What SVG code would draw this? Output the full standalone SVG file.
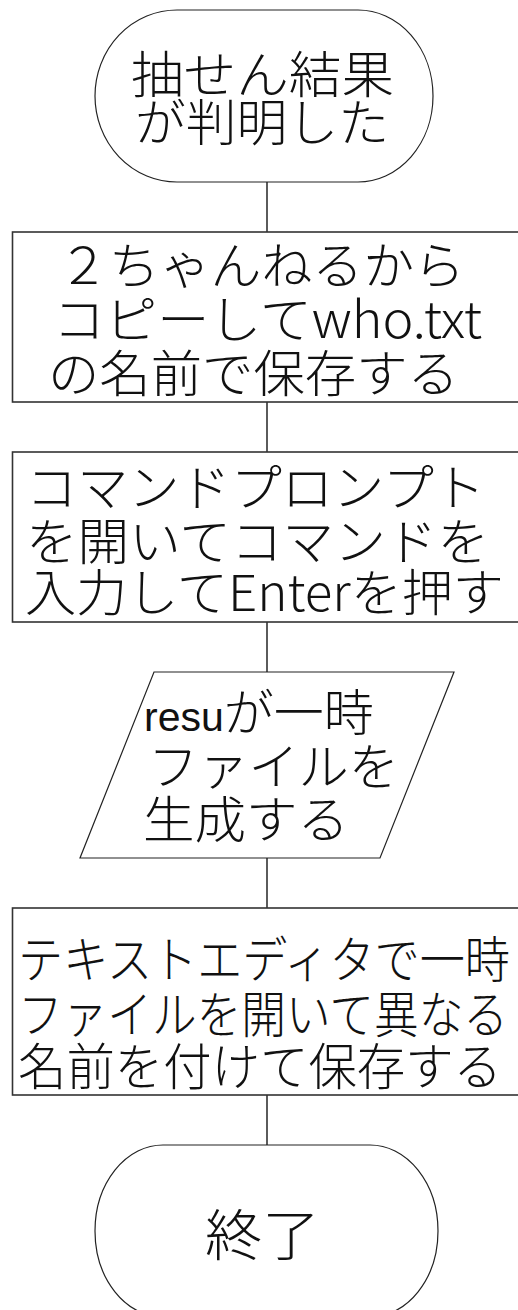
<svg xmlns="http://www.w3.org/2000/svg" width="518" height="1310" viewBox="0 0 518 1310">
<style>
.bg{fill:#ffffff}
.term{fill:#ffffff;stroke:#222;stroke-width:1.2}
.box{fill:#ffffff;stroke:#333;stroke-width:1.6}
.io{fill:#ffffff;stroke:#222;stroke-width:1.2}
.conn{stroke:#333;stroke-width:1.6;fill:none}
.t{font-family:"Noto Sans CJK JP","Noto Sans CJK SC",sans-serif;font-size:50px;font-weight:300;fill:#111}
.lat{font-family:"Liberation Sans",Arial,sans-serif;font-size:41px;font-weight:normal}
</style>
<rect class="bg" x="0" y="0" width="518" height="1310"/>
<g id="connectors">
<line class="conn" x1="267" y1="182" x2="267" y2="232"/>
<line class="conn" x1="267" y1="402" x2="267" y2="452"/>
<line class="conn" x1="267" y1="622" x2="267" y2="672"/>
<line class="conn" x1="267" y1="858" x2="267" y2="908"/>
<line class="conn" x1="267" y1="1095" x2="267" y2="1145"/>
</g>
<g id="start">
<path class="term" d="M177,10 H358 A75,86 0 0 1 358,182 H177 A82,86 0 0 1 177,10 Z"/>
<text class="t" x="131" y="93" textLength="263" lengthAdjust="spacingAndGlyphs">抽せん結果</text>
<text class="t" x="135" y="141" textLength="254" lengthAdjust="spacingAndGlyphs">が判明した</text>
</g>
<g id="copy">
<rect class="box" x="12.5" y="232" width="520" height="170"/>
<text class="t" x="58" y="284" textLength="407" lengthAdjust="spacingAndGlyphs">２ちゃんねるから</text>
<text class="t" x="53" y="338" textLength="429" lengthAdjust="spacingAndGlyphs">コピーしてwho.txt</text>
<text class="t" x="48" y="392" textLength="411" lengthAdjust="spacingAndGlyphs">の名前で保存する</text>
</g>
<g id="command">
<rect class="box" x="12.5" y="452" width="520" height="170"/>
<text class="t" x="26" y="506" textLength="459" lengthAdjust="spacingAndGlyphs">コマンドプロンプト</text>
<text class="t" x="26" y="560" textLength="463" lengthAdjust="spacingAndGlyphs">を開いてコマンドを</text>
<text class="t" x="25" y="611" textLength="479" lengthAdjust="spacingAndGlyphs">入力してEnterを押す</text>
</g>
<g id="resu">
<polygon class="io" points="154,672 454,672 380,858 80,858"/>
<text class="t" x="144" y="731"><tspan class="lat">resu</tspan><tspan>が一時</tspan></text>
<text class="t" x="148" y="785" textLength="251" lengthAdjust="spacingAndGlyphs">ファイルを</text>
<text class="t" x="143" y="838" textLength="206" lengthAdjust="spacingAndGlyphs">生成する</text>
</g>
<g id="edit">
<rect class="box" x="12.5" y="908" width="520" height="187"/>
<text class="t" x="18" y="978" textLength="492" lengthAdjust="spacingAndGlyphs">テキストエディタで一時</text>
<text class="t" x="18" y="1033" textLength="490" lengthAdjust="spacingAndGlyphs">ファイルを開いて異なる</text>
<text class="t" x="18" y="1085" textLength="484" lengthAdjust="spacingAndGlyphs">名前を付けて保存する</text>
</g>
<g id="end">
<path class="term" d="M163,1145 H370 A68,86 0 0 1 370,1317 H163 A68,86 0 0 1 163,1145 Z"/>
<text class="t" x="205" y="1255" style="font-size:55px" textLength="115" lengthAdjust="spacingAndGlyphs">終了</text>
</g>
</svg>
